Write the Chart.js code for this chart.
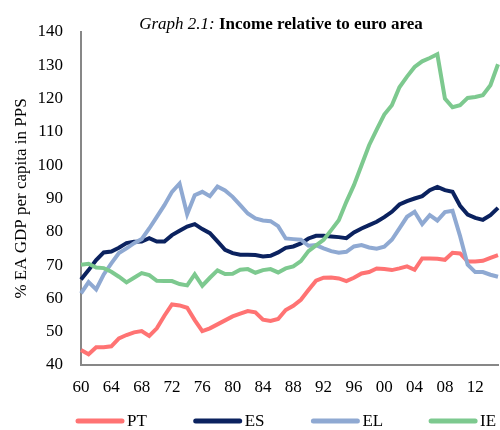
<!DOCTYPE html>
<html>
<head>
<meta charset="utf-8">
<script src="https://cdn.jsdelivr.net/npm/chart.js@4/dist/chart.umd.min.js"></script>
<style>
  html, body { margin: 0; padding: 0; background: #fff; overflow: hidden; }
  #wrap { width: 510px; height: 430px; position: relative; }
</style>
</head>
<body>
<div id="wrap"><canvas id="chart"></canvas></div>
<script>
// years 1960..2015, % of euro area GDP per capita in PPS
const years = [];
for (let y = 1960; y <= 2015; y++) years.push(String(y));

const ptValues = [44.5, 43.2, 45.3, 45.3, 45.6, 48.0, 49.0, 49.8, 50.2, 48.7,
  51.0, 54.8, 58.2, 57.9, 57.2, 53.5, 50.2, 51.0, 52.2, 53.4,
  54.6, 55.4, 56.2, 55.8, 53.6, 53.2, 53.8, 56.5, 57.8, 59.6,
  62.5, 65.3, 66.2, 66.3, 66.0, 65.2, 66.2, 67.5, 67.9, 69.0,
  68.8, 68.5, 69.0, 69.6, 68.6, 72.0, 72.0, 71.9, 71.6, 73.7,
  73.5, 71.1, 71.1, 71.3, 72.2, 73.0];

const esValues = [65.7, 68.5, 71.5, 73.8, 74.1, 75.2, 76.6, 77.0, 77.1, 78.1,
  77.1, 77.1, 79.0, 80.3, 81.6, 82.3, 80.8, 79.6, 77.1, 74.6,
  73.6, 73.1, 73.1, 73.0, 72.6, 72.8, 73.8, 75.2, 75.6, 76.5,
  78.0, 78.8, 78.8, 78.6, 78.4, 78.1, 79.8, 81.0, 82.0, 83.0,
  84.4, 86.0, 88.2, 89.2, 90.0, 90.7, 92.5, 93.5, 92.5, 92.0,
  87.8, 85.2, 84.2, 83.6, 85.0, 87.2];

const elValues = [61.5, 64.9, 62.7, 67.2, 70.5, 73.6, 75.0, 76.6, 77.8, 81.0,
  84.5, 88.0, 92.0, 94.5, 85.3, 91.0, 92.0, 90.7, 93.6, 92.4,
  90.5, 88.0, 85.5, 84.0, 83.4, 83.2, 81.7, 78.0, 77.8, 77.6,
  75.8, 76.0, 75.0, 74.2, 73.7, 74.0, 75.6, 76.0, 75.3, 74.9,
  75.5, 77.6, 81.0, 84.5, 86.0, 82.3, 85.0, 83.4, 85.9, 86.3,
  78.7, 70.1, 67.9, 67.9, 67.1, 66.5];

const ieValues = [70.1, 70.4, 69.3, 69.1, 68.0, 66.5, 64.8, 66.2, 67.6, 67.0,
  65.3, 65.2, 65.2, 64.3, 63.9, 67.2, 63.8, 66.2, 68.4, 67.3,
  67.4, 68.6, 68.8, 67.7, 68.5, 68.8, 67.8, 69.0, 69.6, 71.2,
  74.2, 75.9, 77.6, 80.5, 83.5, 89.0, 94.0, 100.0, 106.0, 110.7,
  115.2, 118.0, 123.4, 126.6, 129.5, 131.2, 132.2, 133.3, 120.0, 117.4,
  118.0, 120.2, 120.5, 121.0, 124.0, 130.3];

const seriesNames = ['PT', 'ES', 'EL', 'IE'];
const seriesColors = ['#ff7373', '#0b225f', '#8fa9d2', '#7dc98f'];

const FONT = "'Liberation Serif', 'Times New Roman', serif";

// title with italic prefix + bold text
const titlePlugin = {
  id: 'mixedTitle',
  afterDraw(chart) {
    const ctx = chart.ctx;
    const part1 = 'Graph 2.1: ';
    const part2 = 'Income relative to euro area';
    ctx.save();
    ctx.fillStyle = '#000';
    ctx.textBaseline = 'alphabetic';
    ctx.font = 'italic 17px ' + FONT;
    const w1 = ctx.measureText(part1).width;
    ctx.font = 'bold 17px ' + FONT;
    const w2 = ctx.measureText(part2).width;
    let x = 281 - (w1 + w2) / 2;
    ctx.font = 'italic 17px ' + FONT;
    ctx.fillText(part1, x, 29);
    ctx.font = 'bold 17px ' + FONT;
    ctx.fillText(part2, x + w1, 29);
    ctx.restore();
  }
};

// line legend under the axis
const legendPlugin = {
  id: 'lineLegend',
  afterDraw(chart) {
    const ctx = chart.ctx;
    const y = 421;
    ctx.save();
    ctx.font = '17px ' + FONT;
    ctx.textBaseline = 'middle';
    chart.data.datasets.forEach((ds, i) => {
      const x = chart.chartArea.left - 3 + i * 117.7;
      ctx.strokeStyle = ds.borderColor;
      ctx.lineWidth = 5;
      ctx.lineCap = 'round';
      ctx.beginPath();
      ctx.moveTo(x, y);
      ctx.lineTo(x + 44, y);
      ctx.stroke();
      ctx.fillStyle = '#000';
      ctx.fillText(ds.label, x + 49, y + 1);
    });
    ctx.restore();
  }
};

const allValues = [ptValues, esValues, elValues, ieValues];

const ctx = document.getElementById('chart').getContext('2d');
new Chart(ctx, {
  type: 'line',
  data: {
    labels: years,
    datasets: seriesNames.map((name, i) => ({
      label: name,
      data: allValues[i],
      borderColor: seriesColors[i],
      backgroundColor: seriesColors[i],
      borderWidth: 4,
      pointRadius: 0,
      tension: 0,
      fill: false,
      order: seriesNames.length - i
    }))
  },
  options: {
    responsive: true,
    maintainAspectRatio: false,
    animation: false,
    layout: { padding: { top: 32, right: 9, bottom: 0, left: 0 } },
    plugins: {
      legend: { display: false },
      title: { display: false },
      tooltip: { enabled: false }
    },
    scales: {
      x: {
        type: 'category',
        offset: false,
        grid: { display: false, drawTicks: false },
        border: { display: true, color: '#878787', width: 2 },
        ticks: {
          autoSkip: false,
          maxRotation: 0,
          padding: 12,
          color: '#000',
          font: { family: FONT, size: 17 },
          callback: function(value, index) {
            const yr = 1960 + index;
            if ((yr - 1960) % 4 === 0 && yr <= 2012) return String(yr).slice(2);
            return '';
          }
        },
        afterFit: function(scale) { scale.height = 65; }
      },
      y: {
        min: 40,
        max: 140,
        grid: { display: false, drawTicks: false },
        border: { display: true, color: '#878787', width: 2 },
        ticks: {
          stepSize: 10,
          padding: 18,
          color: '#000',
          font: { family: FONT, size: 17 }
        },
        title: {
          display: true,
          text: '% EA GDP per capita in PPS',
          color: '#000',
          font: { family: FONT, size: 17 },
          padding: { top: 11, bottom: 0 }
        },
        afterFit: function(scale) { scale.width = 81; }
      }
    }
  },
  plugins: [titlePlugin, legendPlugin]
});
</script>
</body>
</html>
